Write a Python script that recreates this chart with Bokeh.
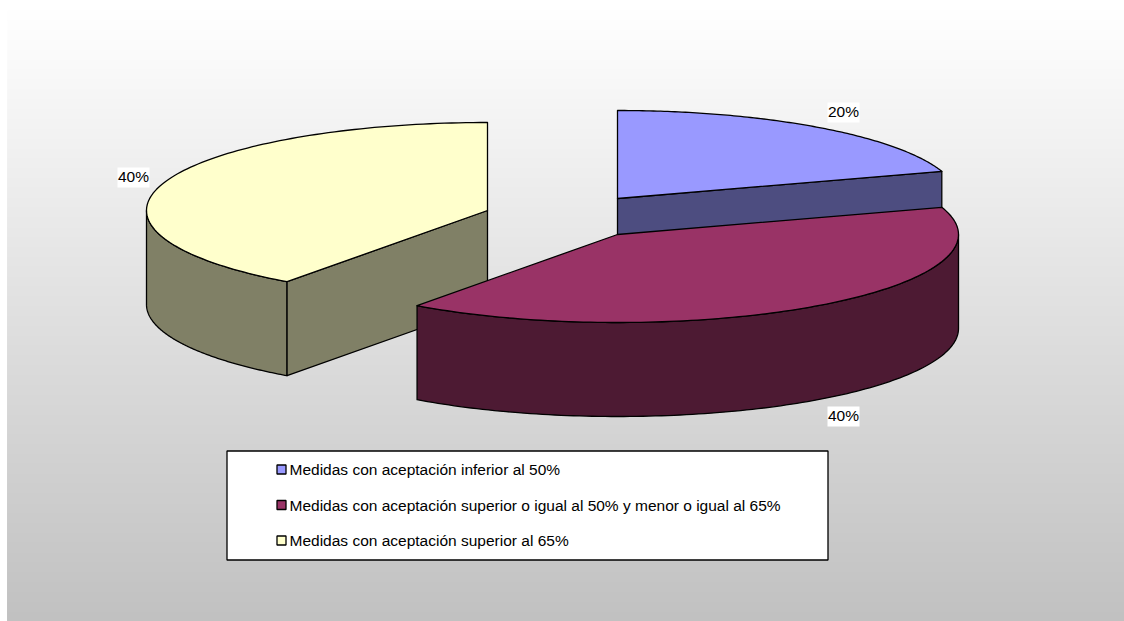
import numpy as np
from bokeh.plotting import figure
from bokeh.models import Range1d
from bokeh.core.properties import value
from bokeh.embed import file_html
from bokeh.resources import INLINE

categories = ["Medidas con aceptación inferior al 50%",
              "Medidas con aceptación superior o igual al 50% y menor o igual al 65%",
              "Medidas con aceptación superior al 65%"]
shares = [20, 40, 40]
top_colors = ["#9999FF", "#993366", "#FFFFCC"]
wall_colors = ["#4D4D80", "#4D1A33", "#808066"]

# layout (figure units equal picture pixels)
WIDTH, HEIGHT = 1124, 621
BG_LEFT = 7
RX, RY, DEPTH = 341, 88, 94
centers = [(617, 198), (617, 234), (487, 210)]
label_pos = [(843, 112), (843, 416), (133, 177)]
FONT = "Liberation Sans"
FS = "15.5px"
LW = 1.3

p = figure(width=WIDTH, height=HEIGHT, output_backend="svg", toolbar_location=None,
           x_range=Range1d(0, WIDTH), y_range=Range1d(HEIGHT, 0),
           min_border=0, outline_line_color=None, background_fill_color=None,
           border_fill_color=None)
p.axis.visible = False
p.grid.visible = False

# background gradient: overlapping bands so that no white shows through the seams
grey_levels = np.arange(255, 191, -1)
band_tops = (255 - grey_levels) / (255 - 192) * HEIGHT
p.quad(left=BG_LEFT, right=WIDTH, top=band_tops, bottom=HEIGHT,
       fill_color=[f"#{g:02x}{g:02x}{g:02x}" for g in grey_levels], line_color=None)

cum = np.cumsum([0] + shares) / sum(shares) * 2 * np.pi
def pt(c, a, dz=0.0):
    a = np.asarray(a)
    return c[0] + RX * np.sin(a), c[1] - RY * np.cos(a) + dz

def arc(c, a0, a1, dz=0.0):
    return pt(c, np.linspace(a0, a1, 120), dz)

def draw_poly(xs, ys, color):
    p.patch(list(xs), list(ys), fill_color=color, line_color="black", line_width=LW,
            line_join="round")

def draw_slice(i):
    c = centers[i]
    a0, a1 = cum[i], cum[i + 1]
    # outer wall: the part of the rim on the front half (90deg..270deg)
    f0, f1 = max(a0, np.pi / 2), min(a1, 3 * np.pi / 2)
    if f1 > f0:
        xt, yt = arc(c, f0, f1)
        xb, yb = arc(c, f0, f1, DEPTH)
        draw_poly(np.r_[xt, xb[::-1]], np.r_[yt, yb[::-1]], wall_colors[i])
    # radial walls facing the viewer
    for a in (a0, a1):
        front = (a == a1 and np.sin(a) > 0) or (a == a0 and np.sin(a) < 0)
        if front:
            x1, y1 = pt(c, a)
            draw_poly([c[0], x1, x1, c[0]], [c[1], y1, y1 + DEPTH, c[1] + DEPTH], wall_colors[i])
    # top
    xt, yt = arc(c, a0, a1)
    draw_poly(np.r_[c[0], xt], np.r_[c[1], yt], top_colors[i])

for i in (2, 0, 1):
    draw_slice(i)

# data labels
for (lx, ly), s in zip(label_pos, shares):
    p.quad(left=lx - 16, right=lx + 16, top=ly - 10, bottom=ly + 10, fill_color="white", line_color=None)
    p.text([lx], [ly - 1.5], text=[f"{s}%"], text_font=value(FONT), text_font_size=value(FS),
           text_color="black", text_align="center", text_baseline="middle")

# legend
p.quad(left=226.5, right=827.5, top=450.5, bottom=559.5, fill_color="white", line_color="black", line_width=LW)
leg_y = [469.5, 505, 540.5]
for y, name, col in zip(leg_y, categories, top_colors):
    p.quad(left=276.5, right=285.5, top=y - 5, bottom=y + 4, fill_color=col, line_color="black", line_width=LW)
    p.text([289], [y - 0.5], text=[name], text_font=value(FONT), text_font_size=value(FS),
           text_color="black", text_align="left", text_baseline="middle")

open("out.html", "w").write(file_html(p, INLINE))
